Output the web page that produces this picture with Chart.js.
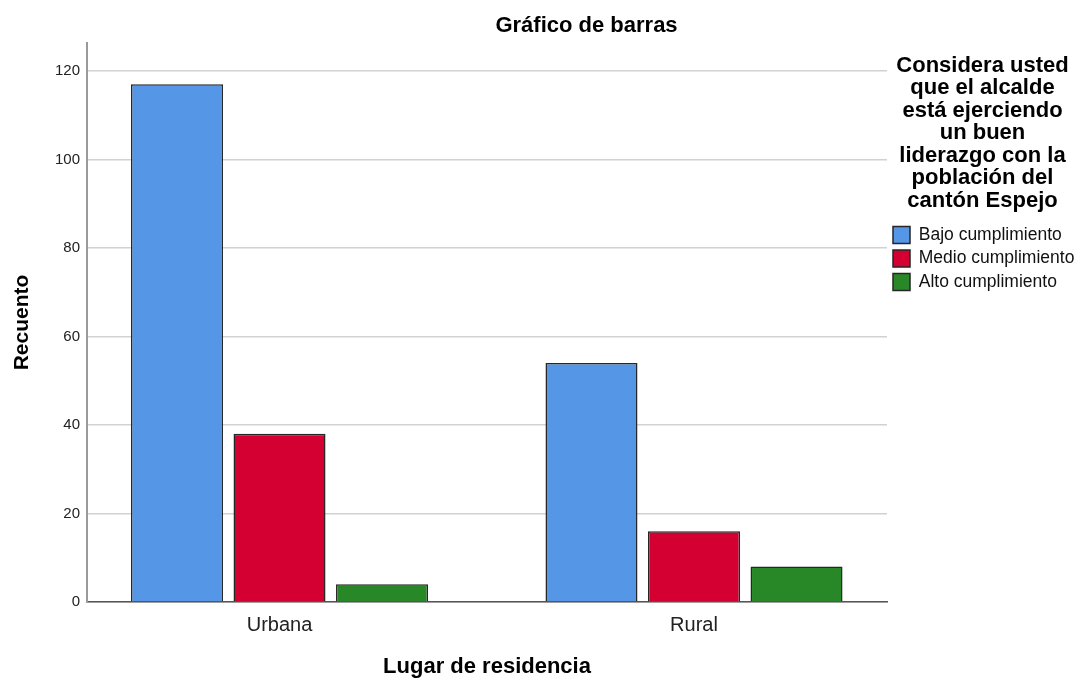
<!DOCTYPE html>
<html lang="es">
<head>
  <meta charset="UTF-8">
  <title>Gráfico de barras</title>
  <script src="https://cdn.jsdelivr.net/npm/chart.js"></script>
  <style>
    body {
      margin: 0;
      padding: 0;
      background: #fff;
    }

    .chart-wrapper {
      width: 1078px;
      height: 680px;
      position: relative;
    }
  </style>
</head>
<body>
  <div class="chart-wrapper"><canvas id="barChart"></canvas></div>

  <script>
    // Data
    const categories = ["Urbana", "Rural"];
    const seriesNames = ["Bajo cumplimiento", "Medio cumplimiento", "Alto cumplimiento"];
    const bajo = [117, 54];
    const medio = [38, 16];
    const alto = [4, 8];
    const yTicks = [0, 20, 40, 60, 80, 100, 120];

    const chartTitle = "Gráfico de barras";
    const legendTitle = ["Considera usted", "que el alcalde", "está ejerciendo", "un buen",
      "liderazgo con la", "población del", "cantón Espejo"];
    const xTitle = "Lugar de residencia";
    const yTitle = "Recuento";

    const colors = ["#5596e6", "#d50032", "#288828"];
    const FONT = "'Liberation Sans', Arial, sans-serif";

    // SPSS style main title, centred over plot + legend
    const titlePlugin = {
      id: 'spssTitle',
      afterDraw(chart) {
        const ctx = chart.ctx;
        const x = (chart.chartArea.left + chart.legend.right) / 2 + 4;
        ctx.save();
        ctx.font = "bold 22px " + FONT;
        ctx.fillStyle = "#000";
        ctx.textAlign = "center";
        ctx.textBaseline = "middle";
        ctx.fillText(chartTitle, x, 26);
        ctx.restore();
      }
    };

    const allSeries = [bajo, medio, alto];
    const datasets = allSeries.map((vals, i) => ({
      label: seriesNames[i],
      data: vals.map((v, j) => ({ x: j, y: v })),
      backgroundColor: colors[i],
      borderColor: "#262626",
      borderWidth: 1.5,
      categoryPercentage: 0.742,
      barPercentage: 0.8976
    }));

    const ctx = document.getElementById("barChart").getContext('2d');
    new Chart(ctx, {
      type: 'bar',
      data: { datasets: datasets },
      plugins: [titlePlugin],
      options: {
        responsive: true,
        maintainAspectRatio: false,
        animation: false,
        layout: { padding: { top: 43, left: 0, right: 0, bottom: 0 } },
        scales: {
          x: {
            type: 'linear',
            offset: false,
            min: -0.4644,
            max: 1.4656,
            grid: { display: false, drawTicks: false },
            border: { display: true, color: "#555", width: 1.5 },
            afterBuildTicks: (scale) => {
              scale.ticks = categories.map((_, i) => ({ value: i }));
            },
            ticks: {
              padding: 11,
              color: "#222",
              font: { family: FONT, size: 20 },
              callback: (v) => categories[v]
            },
            title: {
              display: true,
              text: xTitle,
              color: "#000",
              font: { family: FONT, size: 22, weight: 'bold' },
              padding: { top: 5.6, bottom: 0 }
            }
          },
          y: {
            min: 0,
            max: 126.3,
            grid: { color: "#d2d2d2", lineWidth: 1.5, drawTicks: false },
            border: { display: true, color: "#9a9a9a", width: 2 },
            afterBuildTicks: (scale) => {
              scale.ticks = yTicks.map(v => ({ value: v }));
            },
            ticks: {
              padding: 7,
              color: "#222",
              font: { family: FONT, size: 15 }
            },
            title: {
              display: true,
              text: yTitle,
              color: "#000",
              font: { family: FONT, size: 21, weight: 'bold' },
              padding: { top: 9.4, bottom: 13.4 }
            }
          }
        },
        plugins: {
          legend: {
            display: true,
            position: 'right',
            align: 'start',
            maxWidth: 191,
            title: {
              display: true,
              text: legendTitle,
              color: "#000",
              position: 'center',
              font: { family: FONT, size: 22, weight: 'bold', lineHeight: 1.023 },
              padding: { top: 11.5, bottom: 143.3 }
            },
            labels: {
              boxWidth: 17,
              boxHeight: 17,
              padding: 6,
              color: "#111",
              font: { family: FONT, size: 17.5 }
            }
          },
          title: { display: false },
          tooltip: { enabled: false }
        }
      }
    });
  </script>
</body>
</html>
